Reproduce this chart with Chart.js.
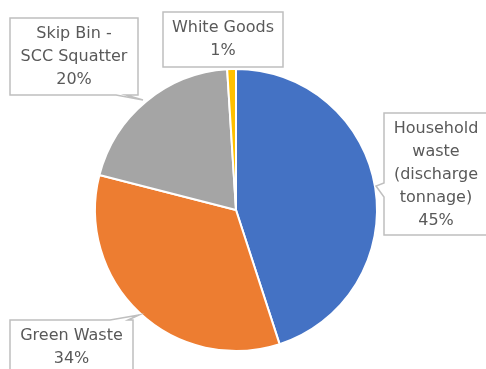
<!DOCTYPE html>
<html>
<head>
<meta charset="utf-8">
<script src="https://cdn.jsdelivr.net/npm/chart.js@4"></script>
<style>
  html, body { margin: 0; padding: 0; background: #fff; }
  #wrap { width: 486px; height: 369px; }
</style>
</head>
<body>
<div id="wrap"><canvas id="canvas"></canvas></div>
<script>
// data
const labels = [
  ['Household', 'waste', '(discharge', 'tonnage)'],
  ['Green Waste'],
  ['Skip Bin -', 'SCC Squatter'],
  ['White Goods']
];
const values = [45, 34, 20, 1];
const colors = ['#4472C4', '#ED7D31', '#A5A5A5', '#FFC000'];

// callout boxes (layout only)
const callouts = [
  { x: 384, y: 113, w: 104, h: 122, side: 'left', a: 183, b: 197, tip: [376, 186] },
  { x: 10, y: 320, w: 123, h: 60, side: 'top', a: 110, b: 128, tip: [139, 315] },
  { x: 10, y: 18, w: 128, h: 77, side: 'bottom', a: 116, b: 126, tip: [143, 100] },
  { x: 163, y: 12, w: 120, h: 55, side: null }
];

function calloutPath(ctx, c) {
  const x0 = c.x, y0 = c.y, x1 = c.x + c.w, y1 = c.y + c.h;
  ctx.beginPath();
  ctx.moveTo(x0, y0);
  if (c.side === 'top') { ctx.lineTo(c.a, y0); ctx.lineTo(c.tip[0], c.tip[1]); ctx.lineTo(c.b, y0); }
  ctx.lineTo(x1, y0);
  ctx.lineTo(x1, y1);
  if (c.side === 'bottom') { ctx.lineTo(c.b, y1); ctx.lineTo(c.tip[0], c.tip[1]); ctx.lineTo(c.a, y1); }
  ctx.lineTo(x0, y1);
  if (c.side === 'left') { ctx.lineTo(x0, c.b); ctx.lineTo(c.tip[0], c.tip[1]); ctx.lineTo(x0, c.a); }
  ctx.closePath();
}

const calloutPlugin = {
  id: 'callouts',
  afterDraw(chart) {
    const ctx = chart.ctx;
    const data = chart.data.datasets[0].data;
    const total = data.reduce((s, v) => s + v, 0);
    ctx.save();
    callouts.forEach((c, i) => {
      calloutPath(ctx, c);
      ctx.fillStyle = '#fff';
      ctx.fill();
      ctx.strokeStyle = '#BFBFBF';
      ctx.lineWidth = 1.5;
      ctx.stroke();
      const lines = chart.data.labels[i].concat([Math.round(data[i] / total * 100) + '%']);
      const lh = 23;
      ctx.fillStyle = '#595959';
      ctx.font = '16px "DejaVu Sans", sans-serif';
      ctx.textAlign = 'center';
      ctx.textBaseline = 'middle';
      const startY = c.y + 16;
      lines.forEach((t, k) => ctx.fillText(t, c.x + c.w / 2, startY + k * lh));
    });
    ctx.restore();
  }
};

var ctx = document.getElementById('canvas').getContext('2d');
var myChart = new Chart(ctx, {
  type: 'pie',
  data: {
    labels: labels,
    datasets: [{
      data: values,
      backgroundColor: colors,
      borderColor: '#fff',
      borderWidth: 2
    }]
  },
  options: {
    responsive: true,
    maintainAspectRatio: false,
    animation: false,
    layout: { padding: { left: 94, right: 108, top: 68, bottom: 17 } },
    plugins: {
      legend: { display: false },
      tooltip: { enabled: false }
    }
  },
  plugins: [calloutPlugin]
});
</script>
</body>
</html>
